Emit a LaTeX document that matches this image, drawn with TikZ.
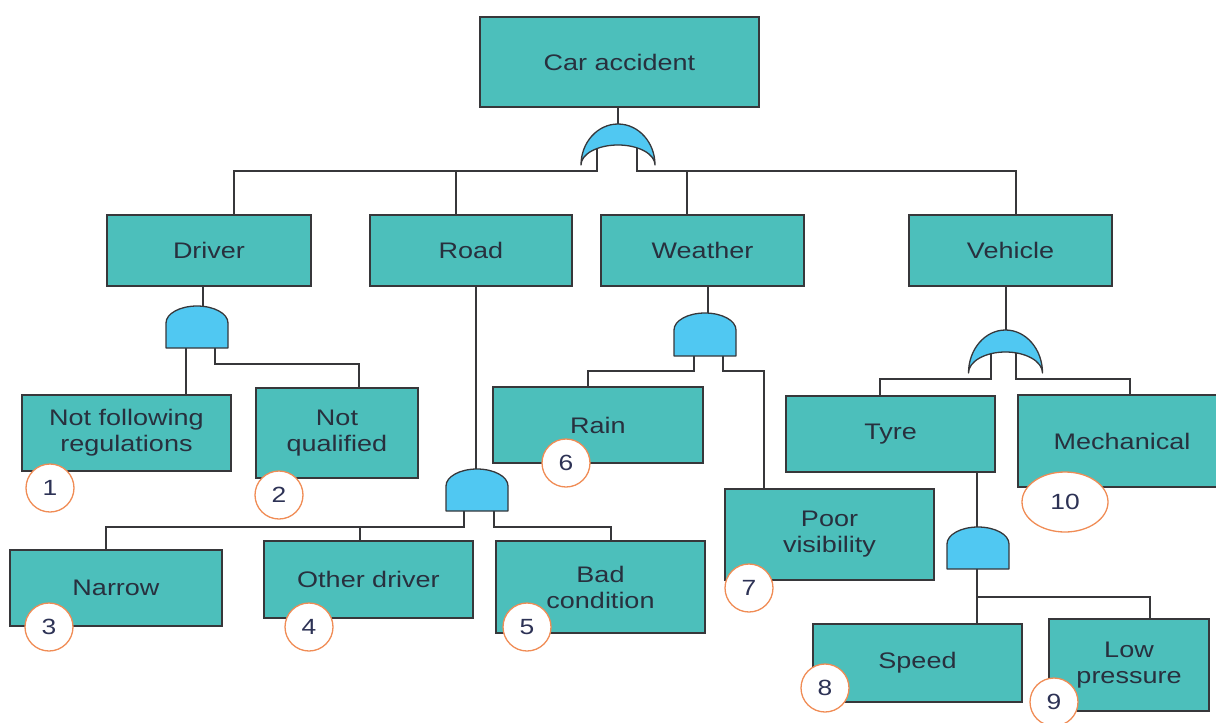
\documentclass[tikz,border=0pt]{standalone}
\usepackage{fontspec}
\setmainfont[FakeStretch=1.2]{Liberation Sans}
\usetikzlibrary{shapes.geometric}
\definecolor{boxc}{RGB}{76,191,187}
\definecolor{gatec}{RGB}{80,200,242}
\definecolor{linec}{RGB}{55,55,58}
\definecolor{orng}{RGB}{240,140,85}
\definecolor{txtc}{RGB}{40,48,62}
\definecolor{numc}{RGB}{45,50,85}
\newcommand{\andgatedraw}[3]{% center x, top y, bottom y
  \filldraw[gatestyle] (#1-31,#3) -- (#1-31,#2+17)
    arc[start angle=180,end angle=360,x radius=31,y radius=17] -- (#1+31,#3) -- cycle;}
\newcommand{\orgatedraw}[4]{% center x, tip y, outer h, inner h
  \filldraw[gatestyle] (#1-37,#2)
    arc[start angle=180,end angle=360,x radius=37,y radius=#3]
    arc[start angle=0,end angle=-180,x radius=37,y radius=#4] -- cycle;}
\begin{document}
\begin{tikzpicture}[x=1pt,y=-1pt,
  box/.style={draw=linec,line width=1.5pt,fill=boxc,text=txtc,align=center,
    font=\fontsize{22.5}{26}\selectfont,inner sep=0pt},
  conn/.style={draw=linec,line width=1.5pt},
  gatestyle/.style={draw=linec,line width=1.3pt,fill=gatec,line join=round},
  num/.style={circle,draw=orng,line width=1.3pt,fill=white,minimum size=48pt,
    inner sep=0pt,text=numc,font=\fontsize{22}{22}\selectfont},
  numell/.style={ellipse,draw=orng,line width=1.3pt,fill=white,minimum width=86pt,
    minimum height=60pt,inner sep=0pt,text=numc,font=\fontsize{22}{22}\selectfont}]
\useasboundingbox (0,0) rectangle (1216,723);
% boxes
\node[box,minimum width=279pt,minimum height=90pt] (top) at (619.5,62) {Car accident};
\node[box,minimum width=204pt,minimum height=71pt] (driver) at (209,250.5) {Driver};
\node[box,minimum width=202pt,minimum height=71pt] (road) at (471,250.5) {Road};
\node[box,minimum width=203pt,minimum height=71pt] (weather) at (702.5,250.5) {Weather};
\node[box,minimum width=203pt,minimum height=71pt] (vehicle) at (1010.5,250.5) {Vehicle};
\node[box,minimum width=209pt,minimum height=76pt] (notfollow) at (126.5,433) {Not following\\regulations};
\node[box,minimum width=162pt,minimum height=90pt] (notqual) at (337,433) {Not\\qualified};
\node[box,minimum width=212pt,minimum height=76pt] (narrow) at (116,588) {Narrow};
\node[box,minimum width=209pt,minimum height=77pt] (other) at (368.5,579.5) {Other driver};
\node[box,minimum width=209pt,minimum height=92pt] (bad) at (600.5,587) {Bad\\condition};
\node[box,minimum width=210pt,minimum height=76pt] (rain) at (598,425) {Rain};
\node[box,minimum width=209pt,minimum height=91pt] (poor) at (829.5,534.5) {Poor\\visibility};
\node[box,minimum width=209pt,minimum height=76pt] (tyre) at (890.5,434) {Tyre};
\node[box,minimum width=208pt,minimum height=92pt] (mech) at (1122,441) {Mechanical};
\node[box,minimum width=209pt,minimum height=78pt] (speed) at (917.5,663) {Speed};
\node[box,minimum width=160pt,minimum height=92pt] (lowp) at (1129,665) {Low\\pressure};
% coordinates
\coordinate (g1top) at (618,124);
\coordinate (g1l) at (597,145);
\coordinate (g1r) at (637,145);
\coordinate (bD) at (234,171);
\coordinate (bR) at (456,171);
\coordinate (bW) at (687,171);
\coordinate (bV) at (1016,171);
\coordinate (g2top) at (203,306);
\coordinate (g2l) at (186,340);
\coordinate (g2r) at (215,340);
\coordinate (j2) at (359,364);
\coordinate (g3top) at (476,469);
\coordinate (g3l) at (464,505);
\coordinate (g3r) at (494,505);
\coordinate (j3a) at (106,527);
\coordinate (j3b) at (360,527);
\coordinate (j3c) at (611,527);
\coordinate (g4top) at (708,313);
\coordinate (g4l) at (694,350);
\coordinate (g4r) at (723,350);
\coordinate (j4a) at (588,371);
\coordinate (j4b) at (764,371);
\coordinate (g5top) at (1006,330);
\coordinate (g5l) at (991,350);
\coordinate (g5r) at (1016,350);
\coordinate (j5a) at (880,379);
\coordinate (j5b) at (1130,379);
\coordinate (g6top) at (977,527);
\coordinate (g6b) at (977,565);
\coordinate (j6) at (977,597);
\coordinate (j6b) at (1150,597);
% connectors
\draw[conn] (g1top |- top.south) -- (g1top);
\draw[conn] (g1l) |- (bD) -- (driver.north -| bD);
\draw[conn] (bR) -- (road.north -| bR);
\draw[conn] (g1r) |- (bV) -- (vehicle.north -| bV);
\draw[conn] (bW) -- (weather.north -| bW);
\draw[conn] (g2top |- driver.south) -- (g2top);
\draw[conn] (g2l) -- (notfollow.north -| g2l);
\draw[conn] (g2r) |- (j2) -- (notqual.north -| j2);
\draw[conn] (g3top |- road.south) -- (g3top);
\draw[conn] (g3l) |- (j3a) -- (narrow.north -| j3a);
\draw[conn] (j3b) -- (other.north -| j3b);
\draw[conn] (g3r) |- (j3c) -- (bad.north -| j3c);
\draw[conn] (g4top |- weather.south) -- (g4top);
\draw[conn] (g4l) |- (j4a) -- (rain.north -| j4a);
\draw[conn] (g4r) |- (j4b) -- (poor.north -| j4b);
\draw[conn] (g5top |- vehicle.south) -- (g5top);
\draw[conn] (g5l) |- (j5a) -- (tyre.north -| j5a);
\draw[conn] (g5r) |- (j5b) -- (mech.north -| j5b);
\draw[conn] (g6top |- tyre.south) -- (g6top);
\draw[conn] (g6b) -- (speed.north -| g6b);
\draw[conn] (j6) -- (j6b) -- (lowp.north -| j6b);
% gates
\orgatedraw{618}{165}{41}{20}
\andgatedraw{197}{306}{348}
\andgatedraw{477}{469}{511}
\andgatedraw{705}{313}{356}
\orgatedraw{1005.5}{373}{43}{21}
\andgatedraw{978}{527}{569}
% numbers
\node[num] (n1) at (50,488) {1};
\node[num] (n2) at (279,495) {2};
\node[num] (n3) at (49,627) {3};
\node[num] (n4) at (309,627) {4};
\node[num] (n5) at (527,627) {5};
\node[num] (n6) at (566,463) {6};
\node[num] (n7) at (749,588) {7};
\node[num] (n8) at (825,688) {8};
\node[num] (n9) at (1054,702) {9};
\node[numell] (n10) at (1065,502) {10};
\end{tikzpicture}
\end{document}
